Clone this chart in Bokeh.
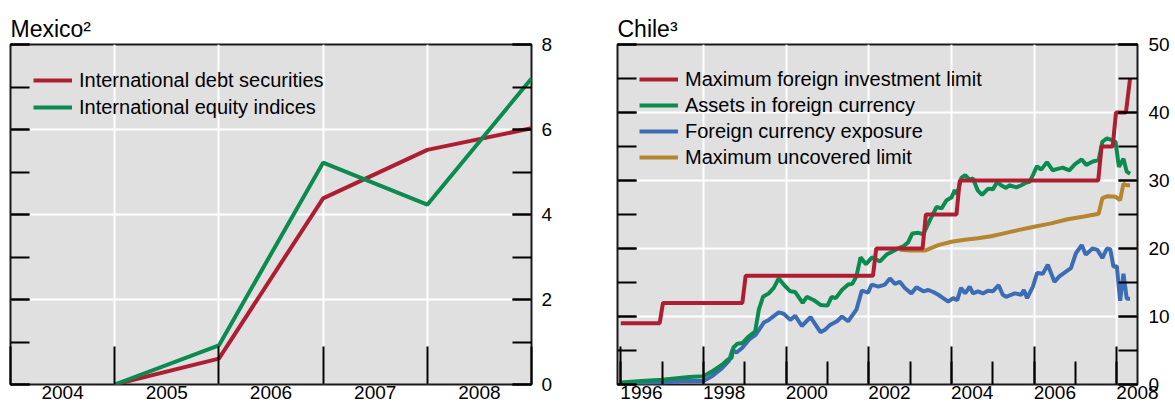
from bokeh.plotting import figure
from bokeh.models import (Range1d, LinearAxis, SingleIntervalTicker, FixedTicker,
                          Legend, LegendItem, Grid)
from bokeh.layouts import row
from bokeh.embed import file_html
from bokeh.resources import INLINE

FONT = "Liberation Sans"
RED = "#AE1E33"
GREEN = "#0B8B4F"
BLUE = "#3B6CB4"
BROWN = "#B5852F"
BG = "#E0E0E0"

# ---------------- Mexico data ----------------
mex_years = [2004, 2005, 2006, 2007, 2008]
mex_debt = [0.0, 0.61, 4.38, 5.52, 6.03]
mex_equity = [0.0, 0.92, 5.22, 4.23, 7.20]
mex_grid_y = [2, 4, 6]
mex_grid_x = [2005, 2006, 2007, 2008]

# ---------------- Chile data ----------------
limit_x = [1996.0, 1996.94, 1997.02, 1998.94, 1999.02, 2002.1, 2002.18, 2003.3, 2003.38,
           2004.12, 2004.2, 2007.55, 2007.63, 2007.9, 2007.98, 2008.22, 2008.32]
limit_y = [9, 9, 12, 12, 16, 16, 20, 20, 25, 25, 30, 30, 35, 35, 40, 40, 45]

assets_x = [1996.0, 1996.5, 1997.0, 1997.3, 1997.65, 1998.0, 1998.2, 1998.45, 1998.6, 1998.68,
            1998.72, 1998.82, 1998.94, 1999.1, 1999.25, 1999.34, 1999.44, 1999.58, 1999.7,
            1999.82, 1999.94, 2000.1, 2000.22, 2000.4, 2000.5, 2000.67, 2000.83, 2001.0,
            2001.1, 2001.2, 2001.35, 2001.5, 2001.6, 2001.7, 2001.8, 2001.93, 2002.08,
            2002.27, 2002.43, 2002.55, 2002.67, 2002.83, 2002.95, 2003.05, 2003.2, 2003.32,
            2003.48, 2003.64, 2003.76, 2003.88, 2004.0, 2004.08, 2004.14, 2004.24, 2004.33,
            2004.44, 2004.52, 2004.63, 2004.74, 2004.89, 2005.0, 2005.11, 2005.2, 2005.32,
            2005.4, 2005.57, 2005.69, 2005.81, 2005.89, 2005.97, 2006.07, 2006.17, 2006.31,
            2006.45, 2006.57, 2006.69, 2006.85, 2006.99, 2007.15, 2007.26, 2007.42, 2007.56,
            2007.65, 2007.76, 2007.85, 2007.97, 2008.05, 2008.16, 2008.24, 2008.32]
assets_y = [0.3, 0.5, 0.7, 0.9, 1.1, 1.2, 1.9, 2.9, 3.7, 3.9,
            5.4, 6.0, 6.1, 7.1, 7.8, 11.0, 12.9, 13.4, 14.2,
            15.6, 14.7, 13.7, 13.6, 12.0, 12.9, 12.4, 11.7, 11.6,
            12.9, 12.7, 13.9, 14.7, 14.8, 15.9, 18.7, 17.7, 18.7,
            18.1, 19.1, 19.5, 19.9, 20.3, 20.9, 22.2, 22.3, 22.1,
            24.2, 26.1, 25.9, 27.1, 27.5, 28.6, 28.0, 30.4, 30.8,
            30.1, 30.3, 28.6, 27.9, 28.8, 28.7, 29.8, 29.3, 28.9,
            29.3, 29.0, 29.3, 29.7, 29.8, 30.8, 32.1, 31.6, 32.7,
            31.5, 31.7, 31.9, 31.5, 32.4, 33.1, 32.3, 32.8, 33.0,
            35.7, 36.2, 36.0, 35.7, 32.0, 33.2, 31.3, 31.0]

exposure_x = [1996.0, 1996.5, 1997.0, 1997.5, 1998.0, 1998.2, 1998.45, 1998.62, 1998.7, 1998.8,
              1998.94, 1999.1, 1999.26, 1999.46, 1999.58, 1999.82, 1999.94, 2000.1, 2000.22,
              2000.38, 2000.59, 2000.83, 2000.95, 2001.07, 2001.23, 2001.35, 2001.5, 2001.7,
              2001.83, 2001.98, 2002.07, 2002.23, 2002.39, 2002.51, 2002.63, 2002.75, 2002.87,
              2003.03, 2003.15, 2003.32, 2003.44, 2003.56, 2003.68, 2003.8, 2003.92, 2004.04,
              2004.14, 2004.23, 2004.33, 2004.44, 2004.52, 2004.64, 2004.76, 2004.88, 2005.0,
              2005.14, 2005.24, 2005.32, 2005.53, 2005.69, 2005.75, 2005.83, 2005.97, 2006.07,
              2006.21, 2006.33, 2006.49, 2006.61, 2006.77, 2006.89, 2007.01, 2007.15, 2007.25,
              2007.41, 2007.53, 2007.65, 2007.76, 2007.84, 2007.92, 2008.0, 2008.08, 2008.16,
              2008.24, 2008.32]
exposure_y = [0.1, 0.2, 0.3, 0.5, 0.5, 1.2, 2.4, 3.5, 5.1, 4.7,
              5.4, 6.6, 7.3, 9.1, 9.5, 10.6, 10.4, 9.5, 10.1,
              8.6, 9.9, 7.7, 8.1, 8.8, 9.3, 10.0, 9.3, 11.0,
              13.8, 13.5, 14.7, 14.4, 14.7, 15.6, 14.8, 15.1, 14.2,
              13.4, 14.3, 13.7, 13.9, 13.6, 13.2, 12.7, 12.2, 12.7,
              12.4, 14.2, 13.4, 14.4, 13.4, 13.7, 13.4, 13.8, 13.7,
              14.6, 13.2, 12.9, 13.4, 13.2, 13.9, 12.7, 14.4, 16.4,
              16.3, 17.6, 15.1, 15.9, 16.6, 17.1, 19.3, 20.5, 19.1,
              20.0, 19.8, 18.6, 20.0, 19.9, 17.3, 17.4, 12.3, 16.3,
              12.6, 12.6]

uncovered_x = [2002.75, 2003.0, 2003.36, 2003.68, 2004.0, 2004.32, 2004.64, 2004.96, 2005.32,
               2005.61, 2006.0, 2006.41, 2006.81, 2007.21, 2007.56, 2007.65, 2007.78, 2007.97,
               2008.08, 2008.16, 2008.24, 2008.32]
uncovered_y = [19.8, 19.7, 19.7, 20.5, 21.0, 21.3, 21.5, 21.8, 22.3,
               22.7, 23.2, 23.7, 24.3, 24.7, 25.1, 27.4, 27.7, 27.6,
               27.1, 29.5, 29.3, 29.3]

chile_label_years = [1996, 1998, 2000, 2002, 2004, 2006, 2008]
chile_grid_x = [1998, 2000, 2002, 2004, 2006, 2008]
chile_grid_y = [10, 20, 30, 40]

H = 407
TOP = 44
BOTTOM = 23


def base_fig(width, xr, yr, left, right, title):
    p = figure(width=width, height=H, x_range=Range1d(*xr), y_range=Range1d(*yr),
               output_backend="svg", toolbar_location=None,
               x_axis_location=None, y_axis_location=None,
               min_border_left=left, min_border_right=right,
               min_border_top=TOP, min_border_bottom=BOTTOM,
               background_fill_color=BG, border_fill_color="white",
               outline_line_color="#1a1a1a", outline_line_width=2, title=title)
    p.center = []
    p.title.text_font = FONT
    p.title.text_font_size = "23px"
    p.title.text_font_style = "normal"
    p.title.text_color = "black"
    p.title.align = "left"
    p.title.offset = 0
    p.title.standoff = 6
    return p


def add_grids(p, gx, gy):
    for dim, ticks in ((0, gx), (1, gy)):
        g = Grid(dimension=dim, ticker=FixedTicker(ticks=ticks),
                 grid_line_color="white", grid_line_width=2)
        p.add_layout(g, "center")


def hide_labels(ax):
    ax.major_label_text_font_size = "0px"
    ax.major_label_text_color = None
    ax.major_label_text_alpha = 0
    ax.major_label_standoff = 0


def add_y_axes(p, interval, standoff):
    for side, show in (("left", False), ("right", True)):
        ax = LinearAxis(ticker=SingleIntervalTicker(interval=interval, num_minor_ticks=2))
        ax.major_tick_in = 19
        ax.major_tick_out = 0
        ax.minor_tick_in = 19
        ax.minor_tick_out = 0
        ax.major_tick_line_color = "black"
        ax.minor_tick_line_color = "black"
        ax.major_tick_line_width = 2
        ax.minor_tick_line_width = 2
        ax.axis_line_color = None
        if show:
            ax.major_label_text_font = FONT
            ax.major_label_text_font_size = "19px"
            ax.major_label_text_color = "black"
            ax.major_label_standoff = standoff
        else:
            hide_labels(ax)
        p.add_layout(ax, side)


def add_x_axes(p, interval, n_minor, major_len, minor_len, label_years):
    tk = LinearAxis(ticker=SingleIntervalTicker(interval=interval, num_minor_ticks=n_minor))
    tk.major_tick_in = major_len
    tk.major_tick_out = 0
    tk.minor_tick_in = minor_len
    tk.minor_tick_out = 0
    tk.major_tick_line_color = "black"
    tk.minor_tick_line_color = "black"
    tk.major_tick_line_width = 2
    tk.minor_tick_line_width = 2
    tk.axis_line_color = None
    hide_labels(tk)
    p.add_layout(tk, "below")

    lb = LinearAxis(ticker=FixedTicker(ticks=[y + 0.5 for y in label_years]),
                    major_label_overrides={y + 0.5: str(y) for y in label_years})
    lb.major_tick_line_color = None
    lb.minor_tick_line_color = None
    lb.major_tick_in = 0
    lb.major_tick_out = 0
    lb.axis_line_color = None
    lb.major_label_standoff = 1
    lb.major_label_text_font = FONT
    lb.major_label_text_font_size = "19px"
    lb.major_label_text_color = "black"
    p.add_layout(lb, "below")


def add_legend(p, items, margin, lh, spacing):
    leg = Legend(items=items, location="top_left")
    leg.label_text_font = FONT
    leg.label_text_font_size = "20px"
    leg.label_text_color = "black"
    leg.glyph_width = 39
    leg.glyph_height = lh
    leg.label_height = lh
    leg.label_standoff = 7
    leg.spacing = spacing
    leg.padding = 0
    leg.margin = margin
    leg.background_fill_alpha = 0
    leg.border_line_color = None
    p.add_layout(leg)


# ---------------- Mexico panel ----------------
pm = base_fig(590, (2004, 2009), (0, 8), 10, 59, "Mexico\u00b2")
add_grids(pm, mex_grid_x, mex_grid_y)
mex_x = [y + 1 for y in mex_years]   # end-of-year observations
r_debt = pm.line(mex_x, mex_debt, line_color=RED, line_width=4)
r_eq = pm.line(mex_x, mex_equity, line_color=GREEN, line_width=4)
add_y_axes(pm, 2, 10)
add_x_axes(pm, 1, 0, 38, 0, mex_years)
add_legend(pm, [LegendItem(label="International debt securities", renderers=[r_debt]),
                LegendItem(label="International equity indices", renderers=[r_eq])],
           23, 26, 1)

# ---------------- Chile panel ----------------
pc = base_fig(582, (1995.92, 2008.5), (0, 50), 27, 34, "Chile\u00b3")
add_grids(pc, chile_grid_x, chile_grid_y)
r_exp = pc.line(exposure_x, exposure_y, line_color=BLUE, line_width=4)
r_unc = pc.line(uncovered_x, uncovered_y, line_color=BROWN, line_width=4)
r_ass = pc.line(assets_x, assets_y, line_color=GREEN, line_width=4)
r_lim = pc.line(limit_x, limit_y, line_color=RED, line_width=4)
add_y_axes(pc, 10, 11)
add_x_axes(pc, 2, 2, 38, 23, chile_label_years)
add_legend(pc, [LegendItem(label="Maximum foreign investment limit", renderers=[r_lim]),
                LegendItem(label="Assets in foreign currency", renderers=[r_ass]),
                LegendItem(label="Foreign currency exposure", renderers=[r_exp]),
                LegendItem(label="Maximum uncovered limit", renderers=[r_unc])],
           22, 26, 0)

layout = row(pm, pc)
open("out.html", "w").write(file_html(layout, INLINE))
